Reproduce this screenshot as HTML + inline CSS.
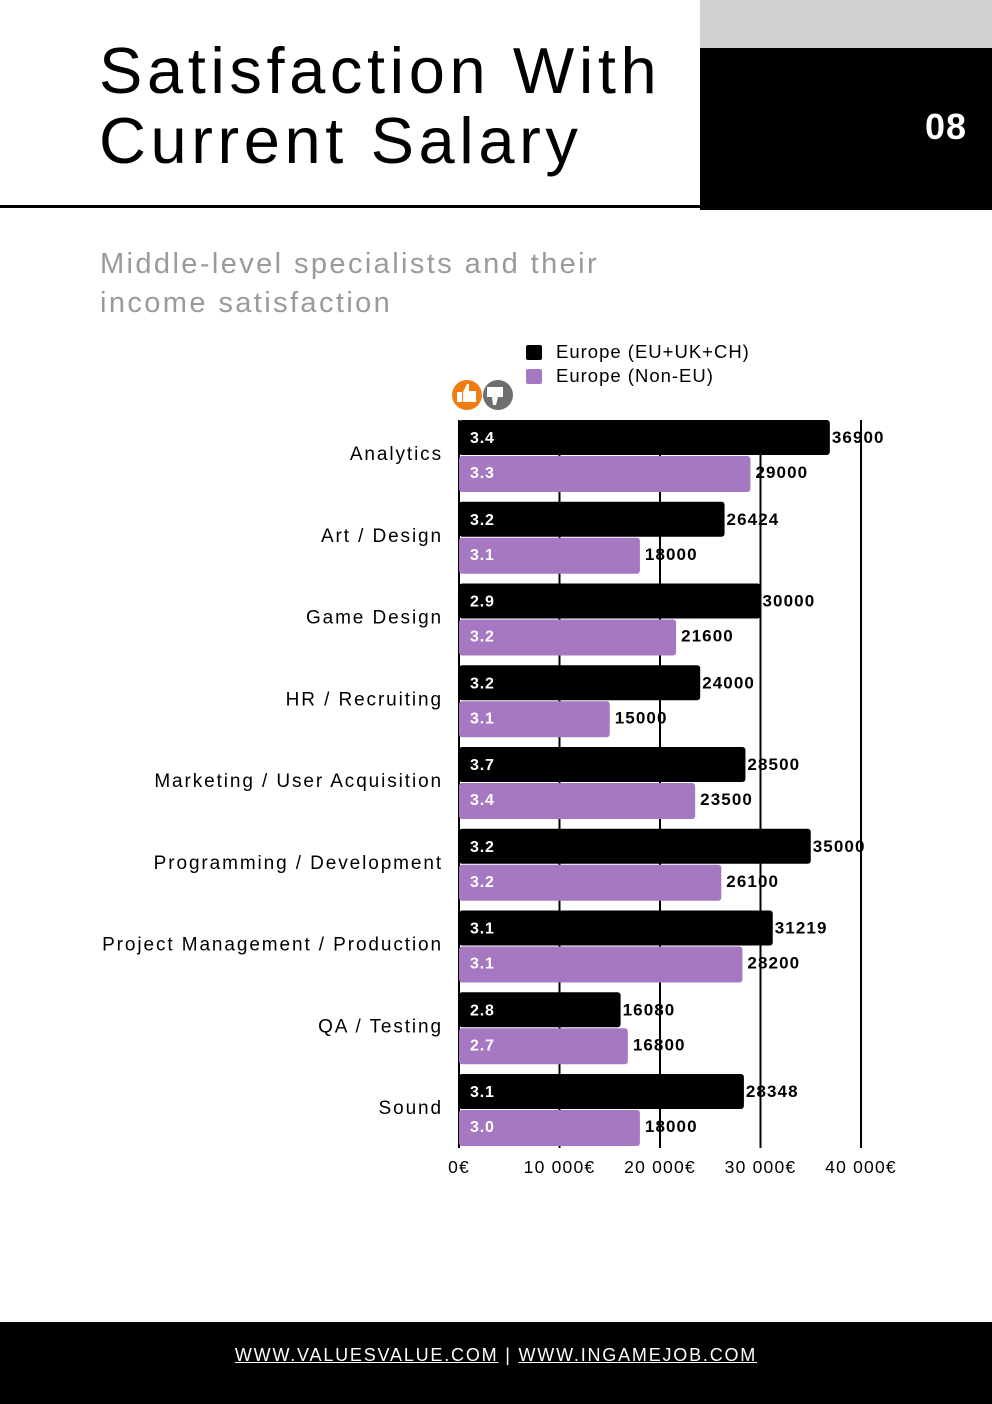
<!DOCTYPE html>
<html><head><meta charset="utf-8">
<style>
body{margin:0;width:992px;height:1404px;position:relative;background:#fff;font-family:"Liberation Sans",sans-serif;overflow:hidden}
.abs{position:absolute}
</style></head><body>
<div class="abs" style="left:700px;top:0;width:292px;height:48px;background:#d0d0d0"></div>
<div class="abs" style="left:700px;top:48px;width:292px;height:162px;background:#000"></div>
<div class="abs" style="left:900px;top:106px;width:92px;text-align:center;color:#fff;font-weight:bold;font-size:36px;letter-spacing:1px">08</div>
<div class="abs" style="left:99px;top:36px;font-size:65px;line-height:70px;letter-spacing:4.6px;color:#000">Satisfaction With<br>Current Salary</div>
<div class="abs" style="left:0;top:205px;width:700px;height:3px;background:#000"></div>
<div class="abs" style="left:100px;top:245px;font-size:29px;line-height:39px;color:#9a9a9a;letter-spacing:2.4px">Middle-level specialists and their<br>income satisfaction</div>
<svg class="abs" style="left:0;top:0" width="992" height="1320" id="chart"></svg>
<div class="abs" style="left:0;top:1322px;width:992px;height:82px;background:#000"></div>
<div class="abs" style="left:0;top:1345px;width:992px;text-align:center;color:#fff;font-size:18px;letter-spacing:1.8px"><span style="text-decoration:underline">WWW.VALUESVALUE.COM</span> | <span style="text-decoration:underline">WWW.INGAMEJOB.COM</span></div>
<script>
const categories=["Analytics","Art / Design","Game Design","HR / Recruiting","Marketing / User Acquisition","Programming / Development","Project Management / Production","QA / Testing","Sound"];
const euSalary=[36900,26424,30000,24000,28500,35000,31219,16080,28348];
const nonEuSalary=[29000,18000,21600,15000,23500,26100,28200,16800,18000];
const euScore=["3.4","3.2","2.9","3.2","3.7","3.2","3.1","2.8","3.1"];
const nonEuScore=["3.3","3.1","3.2","3.1","3.4","3.2","3.1","2.7","3.0"];
const ticks=[0,10000,20000,30000,40000];
const tickLabels=["0€","10 000€","20 000€","30 000€","40 000€"];
const svg=document.getElementById('chart');
const NS='http://www.w3.org/2000/svg';
const x=v=>459+v*0.01005;
const gy=i=>420+i*81.75;
function mk(t,a,txt){const e=document.createElementNS(NS,t);for(const k in a)e.setAttribute(k,a[k]);if(txt!==undefined)e.textContent=txt;svg.appendChild(e);return e;}
ticks.forEach((t,i)=>{
 const l=mk('line',{x1:x(t),x2:x(t),y1:420,y2:1148,stroke:'#000','stroke-width':2});
 
 
 const tx=mk('text',{x:x(t),y:1173,'text-anchor':'middle','font-size':17.5,'letter-spacing':1.2,fill:'#000','font-family':'Liberation Sans'},tickLabels[i]);
 
 
});
categories.forEach((c,i)=>{
 const y0=gy(i);
 const lb=mk('text',{x:443,y:y0+40,'text-anchor':'end','font-size':19,'letter-spacing':1.9,fill:'#000','font-family':'Liberation Sans'},c);
 
 
 const b1=mk('rect',{x:459,y:y0,width:x(euSalary[i])-459,height:35,rx:3,fill:'#000'});
 
 
 const b2=mk('rect',{x:459,y:y0+36,width:x(nonEuSalary[i])-459,height:36,rx:3,fill:'#a678c2'});
 
 
 const s1=mk('text',{x:470,y:y0+23,'font-size':16,'font-weight':'bold','letter-spacing':0.8,fill:'#fff'},euScore[i]);
 
 
 const s2=mk('text',{x:470,y:y0+58,'font-size':16,'font-weight':'bold','letter-spacing':0.8,fill:'#fff'},nonEuScore[i]);
 
 
 const v1=mk('text',{x:x(euSalary[i])+2,y:y0+23,'font-size':17,'font-weight':'bold','letter-spacing':1.1,fill:'#000'},euSalary[i]);
 
 
 const v2=mk('text',{x:x(nonEuSalary[i])+5,y:y0+58,'font-size':17,'font-weight':'bold','letter-spacing':1.1,fill:'#000'},nonEuSalary[i]);
 
 
});
const lg1=mk('rect',{x:526,y:345,width:16,height:15,rx:2,fill:'#000'});


const lt1=mk('text',{x:556,y:358,'font-size':18.5,'letter-spacing':1,fill:'#000'},'Europe (EU+UK+CH)');


const lg2=mk('rect',{x:526,y:369,width:16,height:15,rx:2,fill:'#a678c2'});


const lt2=mk('text',{x:556,y:382,'font-size':18.5,'letter-spacing':1,fill:'#000'},'Europe (Non-EU)');


const i1=mk('circle',{cx:467,cy:395,r:15,fill:'#f07d12'});


mk('path',{d:'M457 392h5v10h-5zM463 392l4-8h2v7h7v11h-13z',fill:'#fff'});
const i2=mk('circle',{cx:498,cy:395,r:15,fill:'#6e6e6e'});


mk('path',{d:'M487 387h16v10h-5l-2 8h-3l-1-8h-5z',fill:'#fff'});
</script>
</body></html>
